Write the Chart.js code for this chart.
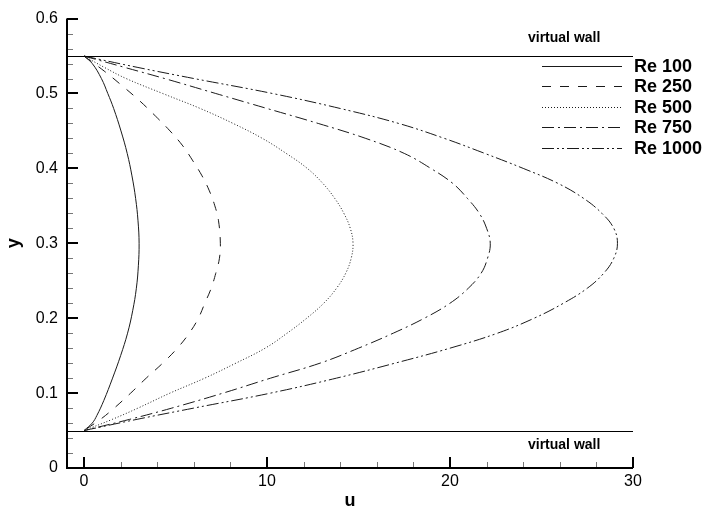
<!DOCTYPE html>
<html>
<head>
<meta charset="utf-8">
<script src="https://cdn.jsdelivr.net/npm/chart.js@4/dist/chart.umd.min.js"></script>
<style>
  html, body { margin: 0; padding: 0; background: #fff; }
  #wrap { width: 704px; height: 508px; position: relative; }
</style>
</head>
<body>
<div id="wrap"><canvas id="profileChart"></canvas></div>
<script>
// Velocity profiles between the two virtual walls
const seriesLabels = ['Re 100', 'Re 250', 'Re 500', 'Re 750', 'Re 1000'];

const re100Y = [0.55, 0.54, 0.52, 0.50, 0.48, 0.45, 0.42, 0.39, 0.36, 0.33, 0.30, 0.27, 0.24, 0.21, 0.18, 0.15, 0.12, 0.09, 0.07, 0.06, 0.05];
const re100U = [0, 0.45, 0.95, 1.3, 1.62, 2.02, 2.36, 2.62, 2.82, 2.95, 3.01, 2.97, 2.86, 2.66, 2.38, 2.0, 1.56, 1.08, 0.7, 0.45, 0];

const re250Y = [0.55, 0.53, 0.51, 0.49, 0.47, 0.45, 0.43, 0.41, 0.39, 0.37, 0.35, 0.33, 0.30, 0.28, 0.26, 0.24, 0.22, 0.20, 0.18, 0.16, 0.14, 0.12, 0.10, 0.08, 0.065, 0.05];
const re250U = [0, 1.1, 2.1, 3.05, 3.9, 4.7, 5.4, 5.95, 6.45, 6.85, 7.15, 7.35, 7.45, 7.4, 7.2, 6.95, 6.6, 6.25, 5.75, 5.1, 4.3, 3.4, 2.55, 1.65, 0.9, 0];

const re500Y = [0.55, 0.535, 0.52, 0.50, 0.48, 0.46, 0.44, 0.42, 0.40, 0.38, 0.36, 0.34, 0.32, 0.30, 0.28, 0.26, 0.24, 0.22, 0.20, 0.18, 0.16, 0.14, 0.12, 0.10, 0.08, 0.065, 0.05];
const re500U = [0, 1.1, 2.3, 4.3, 6.35, 8.15, 9.75, 11.05, 12.2, 13.05, 13.7, 14.2, 14.55, 14.7, 14.6, 14.3, 13.8, 13.1, 12.17, 11.1, 9.9, 8.3, 6.6, 4.7, 2.95, 1.55, 0];

const re750Y = [0.55, 0.535, 0.52, 0.50, 0.48, 0.46, 0.44, 0.42, 0.40, 0.38, 0.36, 0.34, 0.32, 0.30, 0.28, 0.26, 0.24, 0.22, 0.20, 0.18, 0.16, 0.14, 0.12, 0.10, 0.08, 0.065, 0.05];
const re750U = [0, 2.2, 4.4, 7.2, 10.0, 12.8, 15.4, 17.5, 18.95, 20.15, 20.95, 21.6, 22.0, 22.2, 22.05, 21.7, 21.0, 20.0, 18.6, 16.9, 15.0, 12.9, 10.2, 7.6, 4.8, 2.5, 0];

const re1000Y = [0.55, 0.535, 0.52, 0.50, 0.48, 0.46, 0.44, 0.42, 0.40, 0.38, 0.36, 0.34, 0.32, 0.30, 0.28, 0.26, 0.24, 0.22, 0.20, 0.18, 0.16, 0.14, 0.12, 0.10, 0.08, 0.065, 0.05];
const re1000U = [0, 2.9, 6.0, 10.3, 14.0, 17.2, 19.7, 21.9, 24.0, 25.9, 27.3, 28.3, 28.95, 29.15, 28.95, 28.4, 27.5, 26.2, 24.6, 22.6, 20.0, 17.0, 13.8, 10.2, 6.0, 2.9, 0];

const wallLevels = [0.55, 0.05];
const xTickLabels = [0, 10, 20, 30];
const yTickLabels = [0, 0.1, 0.2, 0.3, 0.4, 0.5, 0.6];

const seriesU = [re100U, re250U, re500U, re750U, re1000U];
const seriesY = [re100Y, re250Y, re500Y, re750Y, re1000Y];
const dashes = [[], [9, 9], [1, 2], [12, 4, 2, 4], [12, 3, 2, 3, 2, 3]];

const FONT = "'Liberation Sans', Arial, sans-serif";

const datasets = seriesLabels.map((label, i) => ({
    label: label,
    data: seriesU[i].map((u, k) => ({ x: u, y: seriesY[i][k] })),
    showLine: true,
    borderColor: '#1a1a1a',
    borderWidth: 1,
    borderDash: dashes[i],
    pointRadius: 0,
    tension: 0.4,
    fill: false
}));

// axes, inward ticks, walls and legend
const decorations = {
    id: 'decorations',
    afterDatasetsDraw(chart) {
        const ctx = chart.ctx;
        const area = chart.chartArea;
        const xs = chart.scales.x, ys = chart.scales.y;
        ctx.save();

        // virtual walls
        ctx.strokeStyle = '#000';
        ctx.lineWidth = 1;
        wallLevels.forEach(w => {
            const py = Math.round(ys.getPixelForValue(w)) + 0.5;
            ctx.beginPath();
            ctx.moveTo(area.left, py);
            ctx.lineTo(area.right, py);
            ctx.stroke();
        });
        ctx.fillStyle = '#000';
        ctx.font = 'bold 14px ' + FONT;
        ctx.textAlign = 'left';
        ctx.textBaseline = 'middle';
        ctx.fillText('virtual wall', 528, ys.getPixelForValue(0.55) - 18);
        ctx.fillText('virtual wall', 528, ys.getPixelForValue(0.05) + 15);

        // minor ticks
        ctx.strokeStyle = '#777';
        ctx.lineWidth = 1;
        for (let v = 2; v < 30; v += 2) {
            if (v % 10 === 0) continue;
            const px = Math.round(xs.getPixelForValue(v)) + 0.5;
            ctx.beginPath();
            ctx.moveTo(px, area.bottom);
            ctx.lineTo(px, area.bottom - 6);
            ctx.stroke();
        }
        for (let k = 1; k < 30; k++) {
            if (k % 5 === 0) continue;
            const py = Math.round(ys.getPixelForValue(k * 0.02)) + 0.5;
            ctx.beginPath();
            ctx.moveTo(area.left, py);
            ctx.lineTo(area.left + 6, py);
            ctx.stroke();
        }

        // major ticks
        ctx.strokeStyle = '#000';
        ctx.lineWidth = 2;
        xTickLabels.forEach(v => {
            const px = Math.round(xs.getPixelForValue(v));
            ctx.beginPath();
            ctx.moveTo(px, area.bottom);
            ctx.lineTo(px, area.bottom - 11);
            ctx.stroke();
        });
        yTickLabels.forEach(v => {
            const py = Math.round(ys.getPixelForValue(v));
            ctx.beginPath();
            ctx.moveTo(area.left, py);
            ctx.lineTo(area.left + 11, py);
            ctx.stroke();
        });

        // axis lines
        ctx.lineWidth = 2;
        ctx.beginPath();
        ctx.moveTo(area.left, area.top);
        ctx.lineTo(area.left, area.bottom);
        ctx.lineTo(area.right, area.bottom);
        ctx.stroke();

        // legend
        const legendRows = [66, 86, 107, 127, 148];
        seriesLabels.forEach((label, i) => {
            ctx.strokeStyle = '#1a1a1a';
            ctx.lineWidth = 1;
            ctx.setLineDash(dashes[i]);
            ctx.beginPath();
            ctx.moveTo(542, legendRows[i] + 0.5);
            ctx.lineTo(622, legendRows[i] + 0.5);
            ctx.stroke();
            ctx.setLineDash([]);
            ctx.fillStyle = '#000';
            ctx.font = 'bold 18px ' + FONT;
            ctx.fillText(label, 634, legendRows[i] + 1);
        });
        ctx.restore();
    }
};

new Chart(document.getElementById('profileChart'), {
    type: 'scatter',
    data: { datasets: datasets },
    options: {
        responsive: true,
        maintainAspectRatio: false,
        animation: false,
        layout: { padding: { top: 14, right: 71, left: 0, bottom: 0 } },
        plugins: {
            legend: { display: false },
            tooltip: { enabled: false }
        },
        scales: {
            x: {
                type: 'linear',
                min: -0.93,
                max: 30,
                afterFit: s => { s.height = 40; },
                afterBuildTicks: s => { s.ticks = xTickLabels.map(v => ({ value: v })); },
                grid: { display: false, drawTicks: false },
                border: { display: false },
                ticks: { color: '#000', padding: 4, font: { family: FONT, size: 16 } },
                title: { display: true, text: 'u', color: '#000', padding: { top: 0, bottom: 0 }, font: { family: FONT, size: 18, weight: 'bold', lineHeight: 0.8 } }
            },
            y: {
                type: 'linear',
                min: 0,
                max: 0.6,
                afterFit: s => { s.width = 67; },
                afterBuildTicks: s => { s.ticks = yTickLabels.map(v => ({ value: v })); },
                grid: { display: false, drawTicks: false },
                border: { display: false },
                ticks: { color: '#000', padding: 9, font: { family: FONT, size: 16 } },
                title: { display: true, text: 'y', color: '#000', padding: { top: 3, bottom: 0 }, font: { family: FONT, size: 18, weight: 'bold' } }
            }
        }
    },
    plugins: [decorations]
});
</script>
</body>
</html>
